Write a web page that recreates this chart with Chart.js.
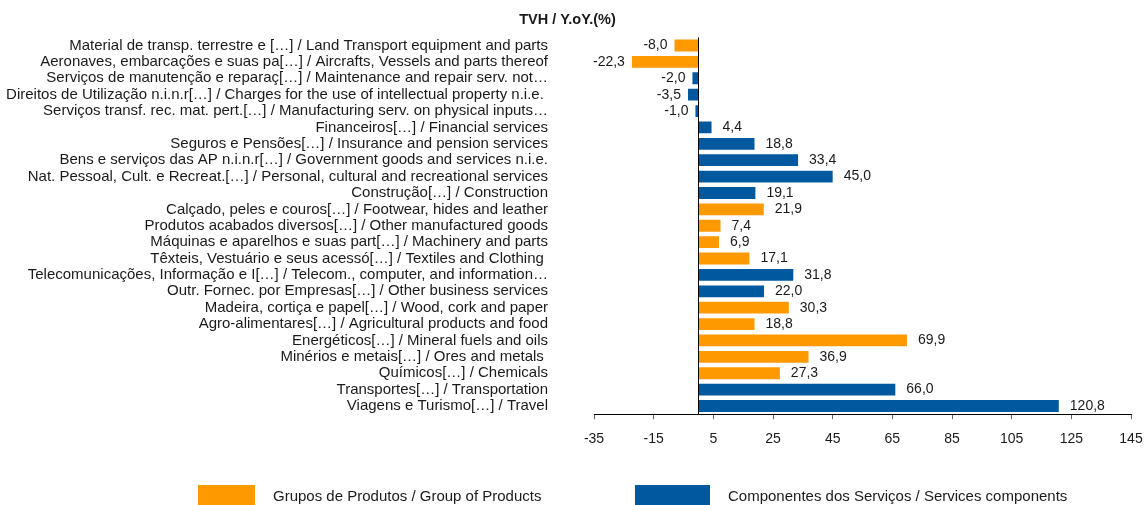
<!DOCTYPE html>
<html>
<head>
<meta charset="utf-8">
<script src="https://cdn.jsdelivr.net/npm/chart.js@4/dist/chart.umd.min.js"></script>
<style>
  body { margin: 0; background: #fff; }
  #wrap { position: relative; width: 1145px; height: 505px; }
  #legend { position: absolute; left: 0; top: 485px; width: 1145px; height: 20px;
            font-family: "Liberation Sans", Arial, sans-serif; font-size: 15px; color: #1a1a1a; }
  .item { position: absolute; top: 0; display: flex; align-items: center; height: 22px; }
  .item .box { height: 20px; margin-right: 18px; align-self: flex-start; }
  .item span { line-height: 22px; white-space: nowrap; }
  #item0 { left: 198px; } #item0 .box { width: 57px; }
  #item1 { left: 635px; } #item1 .box { width: 75px; }
</style>
</head>
<body>
<div id="wrap">
  <canvas id="bar-chart"></canvas>
  <div id="legend"></div>
</div>
<script>
var categories = [
  "Material de transp. terrestre e […] / Land Transport equipment and parts",
  "Aeronaves, embarcações e suas pa[…] / Aircrafts, Vessels and parts thereof",
  "Serviços de manutenção e reparaç[…] / Maintenance and repair serv. not…",
  "Direitos de Utilização n.i.n.r[…] / Charges for the use of intellectual property n.i.e. ",
  "Serviços transf. rec. mat. pert.[…] / Manufacturing serv. on physical inputs…",
  "Financeiros[…] / Financial services",
  "Seguros e Pensões[…] / Insurance and pension services",
  "Bens e serviços das AP n.i.n.r[…] / Government goods and services n.i.e.",
  "Nat. Pessoal, Cult. e Recreat.[…] / Personal, cultural and recreational services",
  "Construção[…] / Construction",
  "Calçado, peles e couros[…] / Footwear, hides and leather",
  "Produtos acabados diversos[…] / Other manufactured goods",
  "Máquinas e aparelhos e suas part[…] / Machinery and parts",
  "Têxteis, Vestuário e seus acessó[…] / Textiles and Clothing ",
  "Telecomunicações, Informação e I[…] / Telecom., computer, and information…",
  "Outr. Fornec. por Empresas[…] / Other business services",
  "Madeira, cortiça e papel[…] / Wood, cork and paper",
  "Agro-alimentares[…] / Agricultural products and food",
  "Energéticos[…] / Mineral fuels and oils",
  "Minérios e metais[…] / Ores and metals ",
  "Químicos[…] / Chemicals",
  "Transportes[…] / Transportation",
  "Viagens e Turismo[…] / Travel"
];

// Grupos de Produtos (null where the row is a service)
var productValues = [-8.0, -22.3, null, null, null, null, null, null, null, null,
  21.9, 7.4, 6.9, 17.1, null, null, 30.3, 18.8, 69.9, 36.9, 27.3, null, null];

// Componentes dos Serviços (null where the row is a product group)
var serviceValues = [null, null, -2.0, -3.5, -1.0, 4.4, 18.8, 33.4, 45.0, 19.1,
  null, null, null, null, 31.8, 22.0, null, null, null, null, null, 66.0, 120.8];

var seriesNames = ["Grupos de Produtos / Group of Products", "Componentes dos Serviços / Services components"];
var xTicks = [-35, -15, 5, 25, 45, 65, 85, 105, 125, 145];

var colors = ['#ff9900', '#00589f'];

Chart.defaults.font.family = '"Liberation Sans", Arial, sans-serif';
Chart.defaults.color = '#1a1a1a';

function fmt(v) {
  return v.toFixed(1).replace('.', ',');
}

// vertical line at zero + value labels
var barLabels = {
  id: 'barLabels',
  afterDatasetsDraw: function(chart) {
    var ctx = chart.ctx;
    var x0 = chart.scales.x.getPixelForValue(0);
    ctx.save();
    ctx.strokeStyle = '#000';
    ctx.lineWidth = 1;
    ctx.beginPath();
    ctx.moveTo(Math.round(x0) + 0.5, chart.chartArea.top);
    ctx.lineTo(Math.round(x0) + 0.5, chart.chartArea.bottom);
    ctx.stroke();

    ctx.font = '14px "Liberation Sans", Arial, sans-serif';
    ctx.fillStyle = '#1a1a1a';
    ctx.textBaseline = 'middle';
    chart.data.datasets.forEach(function(ds, i) {
      chart.getDatasetMeta(i).data.forEach(function(bar, j) {
        var v = ds.data[j];
        if (v === null) return;
        if (v >= 0) {
          ctx.textAlign = 'left';
          ctx.fillText(fmt(v), bar.x + 11, bar.y);
        } else {
          ctx.textAlign = 'right';
          ctx.fillText(fmt(v), bar.x - 7, bar.y);
        }
      });
    });
    ctx.restore();
  }
};

var chart = new Chart(document.getElementById("bar-chart"), {
  type: 'bar',
  data: {
    labels: categories,
    datasets: [
      { label: seriesNames[0], backgroundColor: colors[0], data: productValues },
      { label: seriesNames[1], backgroundColor: colors[1], data: serviceValues }
    ]
  },
  options: {
    indexAxis: 'y',
    responsive: true,
    maintainAspectRatio: false,
    animation: false,
    layout: { padding: { left: 4, right: 14, top: 0, bottom: 45 } },
    datasets: { bar: { grouped: false, categoryPercentage: 1, barPercentage: 0.72 } },
    plugins: {
      legend: { display: false },
      tooltip: { enabled: false },
      title: {
        display: true,
        text: 'TVH / Y.oY.(%)',
        color: '#1a1a1a',
        font: { size: 14.5, weight: 'bold' },
        padding: { top: 11.3, bottom: 8.6 }
      }
    },
    scales: {
      x: {
        min: -35,
        max: 145,
        afterBuildTicks: function(scale) {
          scale.ticks = xTicks.map(function(v) { return { value: v }; });
        },
        afterFit: function(scale) { scale.paddingLeft = 0; scale.paddingRight = 0; },
        grid: { drawOnChartArea: false, drawTicks: true, tickLength: 5, color: '#666' },
        border: { display: true, color: '#000' },
        ticks: { font: { size: 14 }, padding: 12, maxRotation: 0, autoSkip: false, color: '#1a1a1a' }
      },
      y: {
        afterFit: function(scale) {
          scale.width = 590;
          scale.paddingTop = 0;
          scale.paddingBottom = 0;
        },
        grid: { display: false, drawTicks: false },
        border: { display: false },
        ticks: { font: { size: 15 }, padding: 46, autoSkip: false, color: '#1a1a1a' }
      }
    }
  },
  plugins: [barLabels]
});

// legend built from the datasets
var legend = document.getElementById('legend');
chart.data.datasets.forEach(function(ds, i) {
  var item = document.createElement('div');
  item.className = 'item';
  item.id = 'item' + i;
  var box = document.createElement('div');
  box.className = 'box';
  box.style.background = ds.backgroundColor;
  var txt = document.createElement('span');
  txt.textContent = ds.label;
  item.appendChild(box);
  item.appendChild(txt);
  legend.appendChild(item);
});
</script>
</body>
</html>
